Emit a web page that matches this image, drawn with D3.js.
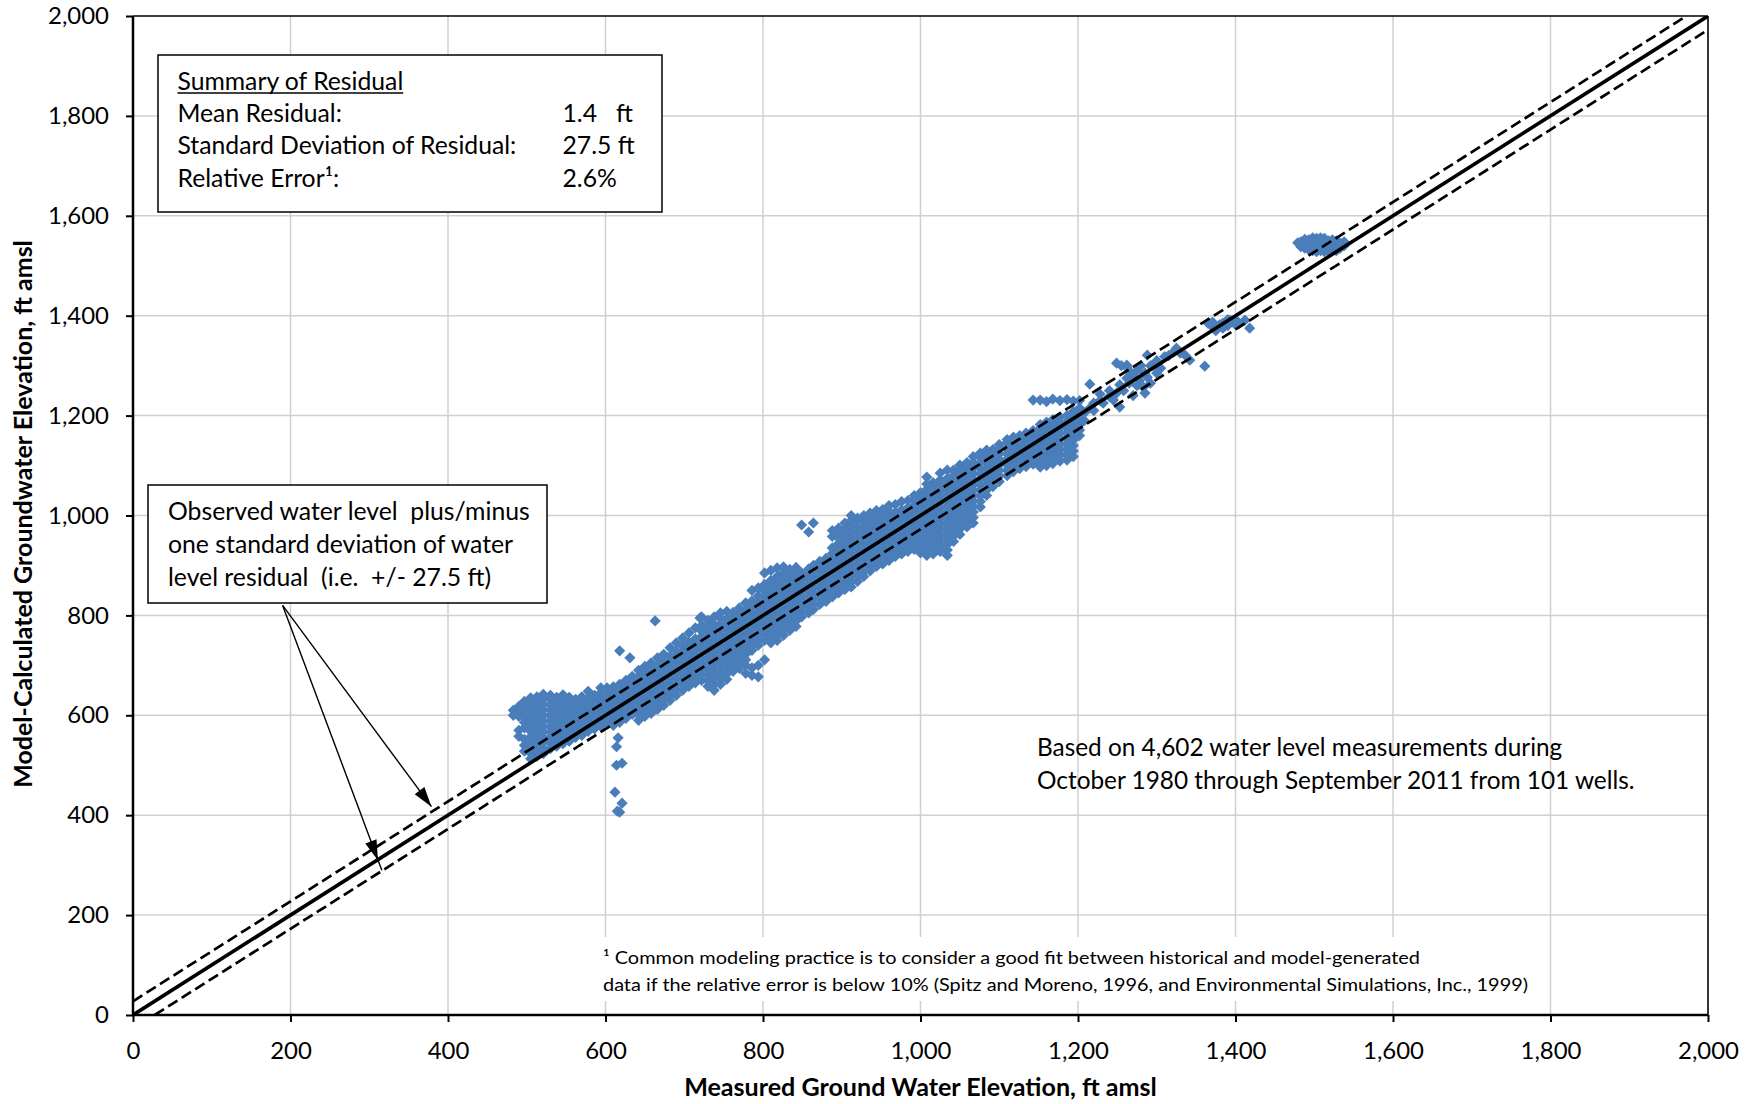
<!DOCTYPE html>
<html><head><meta charset="utf-8">
<script src="https://cdn.jsdelivr.net/npm/d3@7"></script>
<style>
body{margin:0;background:#fff}
text{font-family:Lato,"Open Sans",sans-serif;fill:#000}
</style>
</head><body>
<svg id="chart" width="1750" height="1104"></svg>
<script>
// ---------------- data ----------------
const xTicks = [0,200,400,600,800,1000,1200,1400,1600,1800,2000];
const yTicks = [0,200,400,600,800,1000,1200,1400,1600,1800,2000];
const residualStdDev = 27.5;
const xTitle = "Measured Ground Water Elevation, ft amsl";
const yTitle = "Model-Calculated Groundwater Elevation, ft amsl";
const summaryTitle = "Summary of Residual";
const summaryLabels = ["Mean Residual:", "Standard Deviation of Residual:", "Relative Error\u00B9:"];
const summaryValues = ["1.4   ft", "27.5 ft", "2.6%"];
const annotationLines = ["Observed water level  plus/minus", "one standard deviation of water", "level residual  (i.e.  +/- 27.5 ft)"];
const noteLines = ["Based on 4,602 water level measurements during", "October 1980 through September 2011 from 101 wells."];
const footnoteLines = ["\u00B9 Common modeling practice is to consider a good fit between historical and model-generated",
  "data if the relative error is below 10% (Spitz and Moreno, 1996, and Environmental Simulations, Inc., 1999)"];
// arrows (data units): [fromX, fromY, toX, toY, tipX, tipY]
const arrows = [[190,820,379,417,379,417],[190,820,316,290,311,310]];

// observations read off the picture, grouped by measured elevation (x):
// [measured, [model-calculated values...]]
const observationColumns = [
[483,[600,610]],
[490,[558,570,598,608,618]],
[497,[528,540,552,575,586,597,608,619,628]],
[505,[513,524,535,546,557,568,580,591,602,613,624,635]],
[513,[518,529,540,551,562,573,584,595,606,617,628,637]],
[521,[523,534,545,556,567,578,589,600,611,622,633,642]],
[530,[533,544,555,566,577,588,599,610,621,632,640]],
[538,[538,549,560,571,582,593,604,615,626,636]],
[546,[543,554,565,576,587,598,609,620,631,641]],
[554,[548,559,570,581,592,603,614,625,636]],
[562,[556,567,578,589,600,611,622,632]],
[570,[560,571,582,593,604,615,626,637]],
[578,[568,579,590,601,612,623,634,648]],
[586,[573,584,595,606,617,628,640]],
[594,[578,589,600,611,622,633,645,655]],
[602,[585,596,607,618,629,640,655]],
[610,[580,591,602,613,624,635,646,657]],
[612,[446]],
[614,[500,537]],
[615,[408]],
[616,[555]],
[618,[406,586,597,608,619,630,641,652,662,729]],
[621,[424,504]],
[626,[594,605,616,627,638,649,660,670]],
[631,[715]],
[634,[602,613,624,635,646,657,668,678]],
[642,[590,601,612,623,634,645,656,667,678,690]],
[650,[598,609,620,631,642,653,664,675,686,698]],
[658,[604,615,626,637,648,659,670,681,692,705]],
[663,[789]],
[666,[612,623,634,645,656,667,678,689,700,715]],
[674,[620,631,642,653,664,675,686,697,708,722]],
[682,[630,641,652,663,674,685,696,707,718,735]],
[690,[640,651,662,673,684,695,706,717,728,745]],
[698,[650,661,672,683,694,705,716,727,738,755]],
[706,[658,669,680,691,702,713,724,735,746,765]],
[714,[665,676,687,698,709,720,731,742,753,775]],
[720,[795]],
[722,[670,681,692,703,714,725,736,747,758,769,780,797]],
[730,[658,669,680,691,702,713,724,735,746,757,768,779,790]],
[738,[650,661,672,683,694,705,716,727,738,749,760,771,782,797]],
[746,[662,673,684,695,706,717,728,739,750,761,772,783,794,805]],
[754,[672,683,694,705,716,727,738,749,760,771,782,793,808]],
[762,[688,699,710,721,732,743,754,765,776,787,798,806]],
[770,[694,705,716,727,738,749,760,771,782,793,804,815]],
[778,[684,700,711,722,733,744,755,766,777,788,799,810,825]],
[786,[680,695,730,741,752,763,774,785,796,807,818,829,850]],
[794,[677,700,740,751,762,773,784,795,806,817,828,839,855]],
[802,[711,750,761,772,783,794,805,816,827,838,849,862,885]],
[810,[745,758,769,780,791,802,813,824,835,846,857,870,890]],
[818,[750,764,775,786,797,808,819,830,841,852,863,878,895]],
[826,[760,772,783,794,805,816,827,838,849,860,871,885,897]],
[834,[770,781,792,803,814,825,836,847,858,869,880,892]],
[842,[778,789,800,811,822,833,844,855,866,877,888,896]],
[849,[797,808,819,830,841,852,863,874,885,981]],
[858,[805,816,827,838,849,860,871,882,893,967]],
[864,[812,823,834,845,856,867,878,889,900,985]],
[872,[822,833,844,855,866,877,888,899,908]],
[880,[828,839,850,861,872,883,894,905,914]],
[888,[837,848,859,870,881,892,903,914,924,935,958,970]],
[896,[845,856,867,878,889,900,911,922,933,944,955,965,975]],
[904,[852,863,874,885,896,907,918,929,940,951,962,973,985]],
[912,[857,868,879,890,901,912,923,934,945,956,967,978,990,1000]],
[920,[868,879,890,901,912,923,934,945,955,966,977,988,995]],
[928,[878,889,900,911,922,933,944,955,965,976,987,1000]],
[936,[889,900,911,922,933,944,955,966,976,987,996,1005]],
[944,[898,909,920,931,942,953,964,975,985,997,1010]],
[952,[903,914,925,936,947,958,969,980,991,1002,1012]],
[960,[910,921,932,943,954,965,976,987,998,1009,1020]],
[968,[918,929,940,951,962,973,984,995,1006,1022]],
[976,[923,934,945,956,967,978,989,1000,1011,1028]],
[984,[928,939,950,961,972,983,994,1005,1016,1030]],
[992,[932,943,954,965,976,987,998,1009,1020,1031,1040]],
[1000,[925,936,947,958,969,980,991,1002,1013,1024,1035,1046]],
[1008,[920,931,942,953,964,975,986,997,1008,1019,1030,1041,1052,1063,1077]],
[1016,[923,934,945,956,967,978,989,1000,1011,1022,1033,1044,1055,1066]],
[1025,[928,939,950,961,972,983,994,1005,1016,1027,1038,1049,1060,1071,1085]],
[1034,[920,931,942,953,964,975,986,997,1008,1019,1030,1041,1052,1063,1074,1091]],
[1042,[948,959,970,981,992,1003,1014,1025,1036,1047,1058,1069,1080,1091]],
[1050,[962,973,984,995,1006,1017,1028,1039,1050,1061,1072,1083,1094,1101]],
[1059,[977,988,999,1010,1021,1032,1043,1054,1065,1076,1087,1098,1106]],
[1067,[985,996,1007,1018,1029,1040,1051,1062,1073,1084,1095,1106,1118]],
[1076,[1017,1028,1039,1050,1061,1072,1083,1094,1105,1116,1125]],
[1084,[1040,1051,1062,1073,1084,1095,1106,1117,1131]],
[1092,[1058,1069,1080,1091,1102,1113,1124,1132]],
[1100,[1068,1079,1090,1101,1112,1123,1134,1142]],
[1110,[1080,1091,1102,1113,1124,1135,1146,1152]],
[1118,[1088,1099,1110,1121,1132,1143,1157]],
[1126,[1094,1105,1116,1127,1138,1149,1160]],
[1134,[1098,1109,1120,1131,1142,1153,1165]],
[1143,[1103,1114,1125,1136,1147,1158,1170,1231]],
[1152,[1097,1108,1119,1130,1141,1152,1163,1174,1182,1231]],
[1160,[1100,1111,1122,1133,1144,1155,1166,1177,1187,1228]],
[1168,[1104,1115,1126,1137,1148,1159,1170,1181,1192,1233]],
[1177,[1109,1120,1131,1142,1153,1164,1175,1186,1197,1230]],
[1186,[1111,1122,1133,1144,1155,1166,1177,1188,1200,1232]],
[1194,[1118,1129,1140,1151,1162,1173,1184,1195,1208,1229]],
[1202,[1160,1171,1182,1193,1204,1215,1230]],
[1208,[1190,1205]],
[1215,[1263,1215]],
[1220,[1210,1225]],
[1228,[1243,1230]],
[1232,[1225]],
[1240,[1250,1238]],
[1245,[1231]],
[1249,[1245,1305]],
[1253,[1217,1262]],
[1255,[1300]],
[1258,[1250]],
[1262,[1301,1297,1275]],
[1265,[1265]],
[1268,[1285]],
[1270,[1240,1280]],
[1275,[1290,1260]],
[1278,[1270]],
[1280,[1300]],
[1283,[1257]],
[1285,[1245,1285]],
[1288,[1277,1321]],
[1292,[1265,1300]],
[1295,[1300]],
[1300,[1285,1310]],
[1305,[1295]],
[1310,[1318]],
[1315,[1320]],
[1321,[1327]],
[1325,[1335]],
[1330,[1325]],
[1336,[1321]],
[1342,[1311]],
[1361,[1299]],
[1365,[1385]],
[1371,[1377,1387]],
[1375,[1370]],
[1380,[1382]],
[1384,[1385,1375]],
[1390,[1380,1392]],
[1393,[1391]],
[1400,[1392,1382]],
[1405,[1385]],
[1412,[1391]],
[1418,[1375]],
[1479,[1546]],
[1483,[1538,1548]],
[1488,[1535,1545,1553]],
[1493,[1532,1542,1552]],
[1498,[1530,1540,1550,1556]],
[1503,[1528,1538,1548,1555]],
[1508,[1530,1540,1550,1556]],
[1513,[1528,1538,1548,1555]],
[1518,[1530,1540,1550]],
[1523,[1532,1542,1552]],
[1528,[1530,1540,1550]],
[1533,[1535,1545]],
[1538,[1540,1548]]
];

// ---------------- drawing ----------------
const observations = observationColumns.flatMap(([m, cs]) => cs.map(c => [m, c]));
const svg = d3.select("#chart");
const x = d3.scaleLinear().domain([0, 2000]).range([133, 1708]);
const y = d3.scaleLinear().domain([0, 2000]).range([1015, 16]);

function fit(sel, target) {
  const w = sel.node().getComputedTextLength();
  const fs = parseFloat(sel.attr("font-size"));
  const nfs = fs * target / w;
  sel.attr("font-size", nfs);
  return nfs;
}

svg.append("defs").append("clipPath").attr("id", "plotclip")
  .append("rect").attr("x", x(0)).attr("y", y(2000))
  .attr("width", x(2000) - x(0)).attr("height", y(0) - y(2000));

// grid
const grid = svg.append("g").attr("stroke", "#d0d0d0").attr("stroke-width", 1.5);
grid.selectAll(".gx").data(xTicks.filter(d => d > 0 && d < 2000)).join("line")
  .attr("x1", d => x(d)).attr("x2", d => x(d)).attr("y1", y(0)).attr("y2", y(2000));
grid.selectAll(".gy").data(yTicks.filter(d => d > 0 && d < 2000)).join("line")
  .attr("y1", d => y(d)).attr("y2", d => y(d)).attr("x1", x(0)).attr("x2", x(2000));

// footnote background (white, no border)
svg.append("rect").attr("x", 597).attr("y", 937).attr("width", 943).attr("height", 64).attr("fill", "#fff");

// points
const diamond = "M0,-5.6L5.6,0L0,5.6L-5.6,0Z";
svg.append("g").attr("clip-path", "url(#plotclip)")
  .selectAll("path").data(observations).join("path")
  .attr("d", diamond)
  .attr("transform", d => `translate(${x(d[0])},${y(d[1])})`)
  .attr("fill", "#4A7EBB");

// 1:1 line and +/- one standard deviation lines
const line = d3.line().x(d => x(d[0])).y(d => y(d[1]));
const lg = svg.append("g").attr("clip-path", "url(#plotclip)").attr("fill", "none").attr("stroke", "#000");
lg.append("path").datum([[0, 0], [2000, 2000]]).attr("d", line).attr("stroke-width", 3.6);
lg.append("path").datum([[0, residualStdDev], [2000 - residualStdDev, 2000]]).attr("d", line)
  .attr("stroke-width", 2.7).attr("stroke-dasharray", "11,5");
lg.append("path").datum([[residualStdDev, 0], [2000, 2000 - residualStdDev]]).attr("d", line)
  .attr("stroke-width", 2.7).attr("stroke-dasharray", "11,5");

// axes
const fmt = d3.format(",");
const gy = svg.append("g").attr("transform", `translate(${x(0)},0)`)
  .call(d3.axisLeft(y).tickValues(yTicks).tickSize(7).tickPadding(17).tickFormat(fmt));
const gx = svg.append("g").attr("transform", `translate(0,${y(0)})`)
  .call(d3.axisBottom(x).tickValues(xTicks).tickSize(7).tickPadding(20).tickFormat(fmt));
[gx, gy].forEach(g => {
  g.select(".domain").remove();
  g.attr("font-family", null).attr("font-size", null);
  g.selectAll(".tick line").attr("stroke", "#000").attr("stroke-width", 2);
  g.selectAll(".tick text").attr("font-size", 23).attr("fill", "#000");
});
const tfs = fit(gy.selectAll(".tick text").filter(d => d === 2000), 61);
gy.selectAll(".tick text").attr("font-size", tfs);
gx.selectAll(".tick text").attr("font-size", tfs);

// plot border
const border = svg.append("g").attr("stroke", "#000");
border.append("line").attr("x1", x(0)).attr("x2", x(0)).attr("y1", y(0) + 1).attr("y2", y(2000)).attr("stroke-width", 2.5);
border.append("line").attr("x1", x(0) - 1).attr("x2", x(2000)).attr("y1", y(0)).attr("y2", y(0)).attr("stroke-width", 2.5);
border.append("line").attr("x1", x(0)).attr("x2", x(2000)).attr("y1", y(2000)).attr("y2", y(2000)).attr("stroke-width", 1.6);
border.append("line").attr("x1", x(2000)).attr("x2", x(2000)).attr("y1", y(0)).attr("y2", y(2000)).attr("stroke-width", 1.6);

// axis titles
const xt = svg.append("text").text(xTitle).attr("x", (x(0) + x(2000)) / 2).attr("y", 1096)
  .attr("text-anchor", "middle").attr("font-weight", "bold").attr("font-size", 22);
fit(xt, 473);
const yt = svg.append("text").text(yTitle).attr("transform", "translate(32,514) rotate(-90)")
  .attr("text-anchor", "middle").attr("font-weight", "bold").attr("font-size", 22);
fit(yt, 548);

// summary box
svg.append("rect").attr("x", 158).attr("y", 55).attr("width", 504).attr("height", 157)
  .attr("fill", "#fff").attr("stroke", "#000").attr("stroke-width", 1.5);
const sumRows = svg.append("g");
const sl = sumRows.selectAll(".sl").data(summaryLabels).join("text")
  .attr("x", 177.5).attr("y", (d, i) => 122 + i * 32.3).attr("font-size", 22).text(d => d);
const sfs = fit(sl.filter((d, i) => i === 1), 339);
sl.attr("font-size", sfs);
sumRows.selectAll(".sv").data(summaryValues).join("text")
  .attr("x", 562.5).attr("y", (d, i) => 122 + i * 32.3).attr("font-size", sfs)
  .style("white-space", "pre").text(d => d);
const st = svg.append("text").attr("x", 177.5).attr("y", 89.5).attr("font-size", sfs).text(summaryTitle);
const stw = st.node().getComputedTextLength();
svg.append("line").attr("x1", 177.5).attr("x2", 177.5 + stw).attr("y1", 93).attr("y2", 93)
  .attr("stroke", "#000").attr("stroke-width", 1.3);

// annotation box with arrows
svg.append("rect").attr("x", 148).attr("y", 485).attr("width", 399).attr("height", 118)
  .attr("fill", "#fff").attr("stroke", "#000").attr("stroke-width", 1.5);
const al = svg.append("g").selectAll("text").data(annotationLines).join("text")
  .attr("x", 168).attr("y", (d, i) => 520 + i * 33).attr("font-size", 23)
  .style("white-space", "pre").text(d => d);
const afs = fit(al.filter((d, i) => i === 0), 362);
al.attr("font-size", afs);

const ag = svg.append("g");
arrows.forEach(a => {
  ag.append("line").attr("x1", x(a[0])).attr("y1", y(a[1])).attr("x2", x(a[2])).attr("y2", y(a[3]))
    .attr("stroke", "#000").attr("stroke-width", 1.4);
  const tx = x(a[4]), ty = y(a[5]);
  const ang = Math.atan2(ty - y(a[1]), tx - x(a[0]));
  const L = 20, W = 6;
  const bx = tx - L * Math.cos(ang), by = ty - L * Math.sin(ang);
  const px = -Math.sin(ang) * W, py = Math.cos(ang) * W;
  ag.append("path").attr("d", `M${tx},${ty}L${bx + px},${by + py}L${bx - px},${by - py}Z`).attr("fill", "#000");
});

// note text
const nl = svg.append("g").selectAll("text").data(noteLines).join("text")
  .attr("x", 1037).attr("y", (d, i) => 756 + i * 32.5).attr("font-size", 23).text(d => d);
const nfs = fit(nl.filter((d, i) => i === 1), 598);
nl.attr("font-size", nfs);

// footnote
const fl = svg.append("g").selectAll("text").data(footnoteLines).join("text")
  .attr("x", 603).attr("y", (d, i) => 964 + i * 26.5).attr("font-size", 18).text(d => d);
fl.each(function(d, i) {
  d3.select(this).attr("textLength", i === 0 ? 817 : 925).attr("lengthAdjust", "spacingAndGlyphs");
});
</script>
</body></html>
